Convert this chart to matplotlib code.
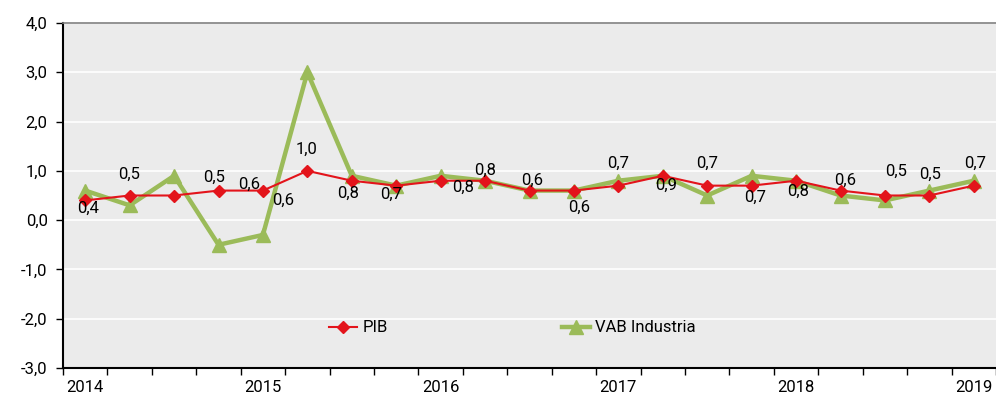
import matplotlib
matplotlib.use("Agg")
import matplotlib.pyplot as plt
import numpy as np

# quarterly growth, 2014 Q1 .. 2019 Q1
pib = [0.4, 0.5, 0.5, 0.6, 0.6, 1.0, 0.8, 0.7, 0.8, 0.8, 0.6,
       0.6, 0.7, 0.9, 0.7, 0.7, 0.8, 0.6, 0.5, 0.5, 0.7]
vab = [0.6, 0.3, 0.9, -0.5, -0.3, 3.0, 0.9, 0.7, 0.9, 0.8, 0.6,
       0.6, 0.8, 0.9, 0.5, 0.9, 0.8, 0.5, 0.4, 0.6, 0.8]
years = ["2014", "2015", "2016", "2017", "2018", "2019"]

# label offsets (pixels) for the PIB data labels, as placed in the original
lbl_dx = [3, -1, 40, 31, 20, -1, -4, -5, 22, 0, 3, 5, 0, 3, 0, 3, 2, 5, 11, 1, 1]
lbl_dy = [-8, 21, 18, 6, -10, 22, -13, -9, -7, 10, 10, -17, 22, -10, 22, -12, -11, 10, 24, 21, 22]

RED = "#E3141B"
GREEN = "#9BBB59"

plt.rcParams["font.family"] = ["Roboto", "DejaVu Sans"]
plt.rcParams["font.size"] = 12

fig = plt.figure(figsize=(9.96, 4.0), dpi=100)
ax = fig.add_axes([63 / 996, 32 / 400, 933 / 996, 345 / 400])
ax.set_facecolor("#EBEBEB")

x = np.arange(len(pib))
l1, = ax.plot(x, pib, color=RED, lw=1.5, marker="D", ms=6, zorder=4, label="PIB")
l2, = ax.plot(x, vab, color=GREEN, lw=3.2, marker="^", ms=10, zorder=3,
              label="VAB Industria")

for i, v in enumerate(pib):
    ax.annotate(("%.1f" % v).replace(".", ","), (x[i], v),
                xytext=(lbl_dx[i] * 0.72, lbl_dy[i] * 0.72), textcoords="offset points",
                ha="center", va="center", fontsize=12, color="black", zorder=5)

ax.set_xlim(-0.5, len(pib) - 0.5)
ax.set_ylim(-3, 4)
ax.set_yticks(np.arange(-3, 5, 1))
ax.set_yticklabels([("%.1f" % t).replace(".", ",") for t in np.arange(-3, 5, 1)])
ax.grid(axis="y", color="white", lw=1.2)
ax.set_axisbelow(True)

ax.set_xticks(np.arange(0, len(pib), 4))
ax.set_xticklabels(years)
ax.set_xticks(np.arange(-0.5, len(pib), 1), minor=True)
ax.tick_params(axis="x", which="major", length=0, pad=9)
ax.tick_params(axis="x", which="minor", length=5, width=1, color="black")
ax.tick_params(axis="y", length=5, width=1, pad=6)

for s in ["left", "bottom"]:
    ax.spines[s].set_color("black")
    ax.spines[s].set_linewidth(1.5)
ax.spines["top"].set_color("#808080")
ax.spines["top"].set_linewidth(1.2)
ax.spines["right"].set_visible(False)

leg1 = ax.legend(handles=[l1], loc="center left", bbox_to_anchor=(0.285, 0.116),
                 frameon=False, handlelength=1.7, handletextpad=0.3, borderpad=0,
                 numpoints=1, fontsize=12, borderaxespad=0)
ax.add_artist(leg1)
ax.legend(handles=[l2], loc="center left", bbox_to_anchor=(0.535, 0.116),
          frameon=False, handlelength=1.7, handletextpad=0.3, borderpad=0,
          numpoints=1, fontsize=12, borderaxespad=0)

fig.savefig("out.png", dpi=100)
